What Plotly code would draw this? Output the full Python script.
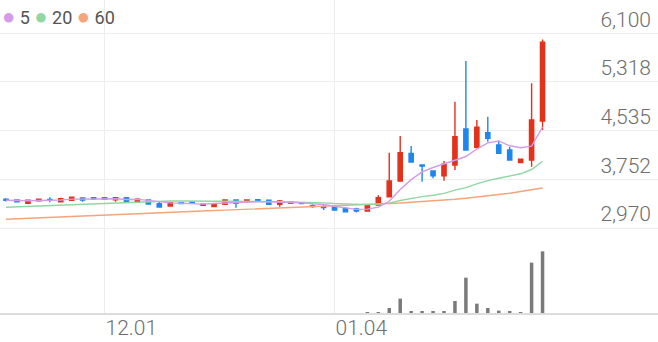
import plotly.graph_objects as go

dates = ["2020-11-18","2020-11-19","2020-11-20","2020-11-23","2020-11-24","2020-11-25","2020-11-26","2020-11-27","2020-11-30",
         "2020-12-01","2020-12-02","2020-12-03","2020-12-04","2020-12-07","2020-12-08","2020-12-09","2020-12-10","2020-12-11",
         "2020-12-14","2020-12-15","2020-12-16","2020-12-17","2020-12-18","2020-12-21","2020-12-22","2020-12-23","2020-12-24",
         "2020-12-28","2020-12-29","2020-12-30",
         "2021-01-04","2021-01-05","2021-01-06","2021-01-07","2021-01-08","2021-01-11","2021-01-12","2021-01-13","2021-01-14",
         "2021-01-15","2021-01-18","2021-01-19","2021-01-20","2021-01-21","2021-01-22","2021-01-25","2021-01-26","2021-01-27",
         "2021-01-28","2021-01-29"]

open_ = [3432,3421,3368,3410,3430,3394,3416,3453,3458,3458, 3426,3458,3384,3421,3362,3325,3378,3389,3335,3314,
         3352,3421,3394,3426,3416,3352,3389,3378,3330,3314, 3314,3287,3276,3244,3341,3474,3726,4171,3985,3887,
         3811,3983,4562,4268,4503,4305,4224,4021,4064,4691]
high = [3448,3430,3420,3437,3464,3458,3468,3456,3462,3462, 3462,3462,3448,3425,3394,3382,3390,3400,3357,3366,
        3425,3426,3430,3432,3420,3421,3395,3384,3352,3352, 3320,3292,3298,3346,3497,4181,4449,4289,3990,3890,
        4048,4999,5655,4707,4760,4369,4273,4080,5296,6000]
low = [3395,3385,3365,3405,3384,3390,3412,3394,3432,3428, 3394,3390,3380,3352,3305,3320,3355,3365,3330,3310,
       3348,3298,3390,3395,3348,3314,3362,3357,3298,3260, 3255,3228,3222,3240,3336,3465,3720,4025,3715,3770,
       3731,3903,4215,4250,4358,4160,4053,4015,3956,4546]
close = [3416,3394,3416,3432,3420,3443,3464,3421,3437,3432, 3458,3394,3432,3357,3309,3378,3362,3373,3352,3362,
         3421,3368,3421,3400,3352,3405,3368,3362,3314,3298, 3260,3233,3244,3341,3458,3726,4181,4032,3965,3811,
         3995,4438,4225,4589,4413,4171,4064,4075,4707,5955]

ma5 = [3418,3412,3410,3414,3416,3421,3435,3436,3437,3439, 3442,3428,3431,3415,3390,3374,3368,3356,3355,3365,
       3374,3375,3385,3394,3392,3389,3389,3377,3360,3349, 3320,3293,3270,3275,3307,3400,3590,3748,3872,3943,
       3997,4060,4120,4240,4340,4370,4292,4262,4286,4594]
ma20 = [3304,3311,3318,3326,3333,3340,3348,3356,3364,3372, 3380,3387,3392,3397,3401,3404,3406,3406,3405,3403,
        3403,3402,3402,3400,3397,3395,3390,3387,3381,3374, 3364,3356,3347,3346,3354,3371,3412,3445,3476,3498,
        3527,3580,3620,3680,3733,3771,3806,3842,3911,4044]
ma60 = [3111,3119,3126,3134,3141,3149,3157,3164,3172,3179, 3187,3195,3202,3210,3218,3225,3233,3239,3246,3252,
        3258,3265,3271,3278,3284,3290,3297,3303,3309,3316, 3322,3328,3335,3341,3352,3363,3373,3384,3395,3405,
        3416,3432,3450,3468,3486,3501,3529,3557,3586,3614]

volume = [0,0,0,0,0,0,0,0,0,0, 0,0,0,0,0,0,0,0,0,0,
          0,0,0,0,0,0,0,0,0,0, 0,0,0,60000,160000,1000000,2870000,340000,340000,270000,
          260000,2400000,7070000,1870000,1000000,470000,330000,200000,10070000,12330000]

price_tickvals = [2970, 3752.5, 4535, 5317.5, 6100]
price_ticktext = ["2,970", "3,752", "4,535", "5,318", "6,100"]
date_tickvals = ["2020-12-01", "2021-01-04"]
date_ticktext = ["12.01", "01.04"]
ma_names = ["5", "20", "60"]

RED = "#e3321b"
BLUE = "#1f86ee"
C5, C20, C60 = "#d49be9", "#8fd8a2", "#f5a47c"
GRID = "#ededed"
TXT = "#6e6e6e"

W, H = 658, 342
price_top_px, price_bot_px = 0, 240
vol_top_px, vol_bot_px = 240, 313
p_at_0, p_per_px = 6635, 16.07
v_per_px = 200000
slot_px, first_px = 10.95, 6

fig = go.Figure()
fig.add_trace(go.Candlestick(
    x=dates, open=open_, high=high, low=low, close=close,
    increasing=dict(line=dict(color=RED, width=1.4), fillcolor=RED),
    decreasing=dict(line=dict(color=BLUE, width=1.4), fillcolor=BLUE),
    whiskerwidth=0, xaxis="x", yaxis="y", showlegend=False, hoverinfo="skip"))
for vals, col, nm in [(ma60, C60, ma_names[2]), (ma20, C20, ma_names[1]), (ma5, C5, ma_names[0])]:
    fig.add_trace(go.Scatter(x=dates, y=vals, mode="lines", line=dict(color=col, width=1.4),
                             name=nm, xaxis="x", yaxis="y", showlegend=False, hoverinfo="skip"))
fig.add_trace(go.Bar(x=dates, y=volume, marker=dict(color="#7a7a7a", line=dict(width=0)),
                     width=0.32, xaxis="x2", yaxis="y2", showlegend=False, hoverinfo="skip"))

xr = [-first_px / slot_px, -first_px / slot_px + W / slot_px]
dot = "font-size:22px"
legend_text = (f"<span style='color:{C5};{dot}'>●</span> {ma_names[0]} "
               f"<span style='color:{C20};{dot}'>●</span> {ma_names[1]} "
               f"<span style='color:{C60};{dot}'>●</span> {ma_names[2]}")

fig.update_layout(
    width=W, height=H, margin=dict(l=0, r=0, t=0, b=0, autoexpand=False),
    paper_bgcolor="white", plot_bgcolor="white",
    font=dict(family="Roboto", color=TXT),
    boxgap=0.45,
    xaxis=dict(domain=[0, 1], anchor="y", type="category", range=xr, automargin=False,
               rangeslider=dict(visible=False), showticklabels=False,
               tickmode="array", tickvals=date_tickvals, showgrid=True, gridcolor=GRID,
               gridwidth=1, zeroline=False, ticks=""),
    yaxis=dict(domain=[1 - price_bot_px / H, 1 - price_top_px / H], automargin=False,
               range=[p_at_0 - p_per_px * price_bot_px, p_at_0 - p_per_px * price_top_px],
               side="right", tickmode="array", tickvals=price_tickvals, ticktext=price_ticktext,
               ticklabelposition="inside", ticklabelshift=-14, ticklabelstandoff=4,
               tickfont=dict(size=21, color=TXT, family="Roboto", weight=300),
               showgrid=True, gridcolor=GRID, gridwidth=1, zeroline=False, ticks=""),
    xaxis2=dict(domain=[0, 1], anchor="y2", type="category", matches="x", automargin=False,
                tickmode="array", tickvals=date_tickvals, ticktext=date_ticktext,
                ticklabelposition="outside right", ticklabelstandoff=-5,
                tickfont=dict(size=21, color=TXT, family="Roboto", weight=300),
                showgrid=True, gridcolor=GRID, gridwidth=1, zeroline=False, ticks="",
                showline=True, linecolor="#dcdcdc", linewidth=2),
    yaxis2=dict(domain=[1 - vol_bot_px / H, 1 - vol_top_px / H], automargin=False,
                range=[0, v_per_px * (vol_bot_px - vol_top_px)],
                showticklabels=False, showgrid=False, zeroline=False, ticks=""),
    annotations=[dict(text=legend_text, xref="paper", yref="paper", x=0, y=1 - 17 / H,
                      xanchor="left", yanchor="middle", showarrow=False,
                      font=dict(size=18, color="#555555", family="Roboto"))],
)

fig.write_html("out.html")
